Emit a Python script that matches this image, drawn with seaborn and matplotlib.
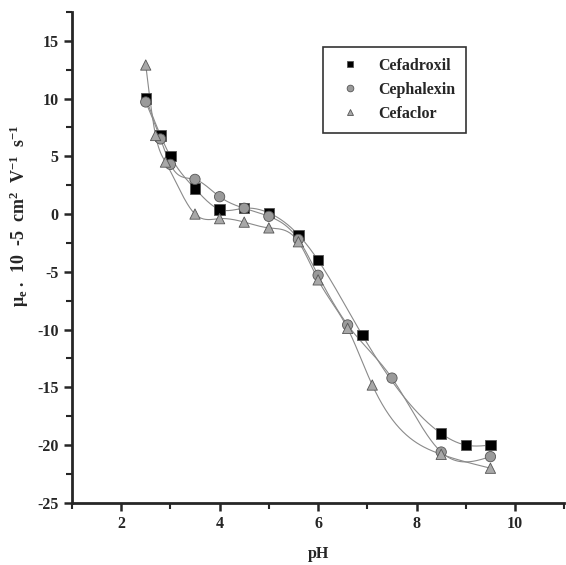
import numpy as np
import pandas as pd
import matplotlib
matplotlib.use("Agg")
import matplotlib.pyplot as plt
import seaborn as sns
from matplotlib.ticker import MultipleLocator

# data
ph_cefadroxil = [2.5, 2.8, 3.0, 3.5, 4.0, 4.5, 5.0, 5.6, 6.0, 6.9, 8.5, 9.0, 9.5]
mu_cefadroxil = [10.0, 6.8, 5.0, 2.2, 0.4, 0.5, 0.1, -1.8, -4.0, -10.5, -19.0, -20.0, -20.0]

ph_cephalexin = [2.5, 2.8, 3.0, 3.5, 4.0, 4.5, 5.0, 5.6, 6.0, 6.6, 7.5, 8.5, 9.5]
mu_cephalexin = [9.7, 6.5, 4.3, 3.0, 1.5, 0.5, -0.2, -2.2, -5.3, -9.6, -14.2, -20.6, -21.0]

ph_cefaclor = [2.5, 2.7, 2.9, 3.5, 4.0, 4.5, 5.0, 5.6, 6.0, 6.6, 7.1, 8.5, 9.5]
mu_cefaclor = [12.9, 6.8, 4.5, 0.0, -0.4, -0.7, -1.2, -2.4, -5.7, -9.9, -14.8, -20.8, -22.0]

names = ["Cefadroxil", "Cephalexin", "Cefaclor"]

sns.set_style("ticks")
plt.rcParams["font.family"] = ["Liberation Serif", "DejaVu Serif"]
plt.rcParams["font.weight"] = "bold"
plt.rcParams["axes.unicode_minus"] = False
plt.rcParams["mathtext.fontset"] = "custom"
plt.rcParams["mathtext.rm"] = "Liberation Serif:bold"
plt.rcParams["mathtext.it"] = "Liberation Serif:bold"
plt.rcParams["mathtext.bf"] = "Liberation Serif:bold"
plt.rcParams["mathtext.default"] = "rm"


def natural_spline(x, y, n=300):
    # smooth connecting curve like the original software draws
    x = np.asarray(x, float)
    y = np.asarray(y, float)
    k = len(x)
    h = np.diff(x)
    A = np.zeros((k, k))
    b = np.zeros(k)
    A[0, 0] = 1
    A[-1, -1] = 1
    for i in range(1, k - 1):
        A[i, i - 1] = h[i - 1]
        A[i, i] = 2 * (h[i - 1] + h[i])
        A[i, i + 1] = h[i]
        b[i] = 6 * ((y[i + 1] - y[i]) / h[i] - (y[i] - y[i - 1]) / h[i - 1])
    M = np.linalg.solve(A, b)
    xs = np.linspace(x[0], x[-1], n)
    idx = np.clip(np.searchsorted(x, xs) - 1, 0, k - 2)
    x0, x1 = x[idx], x[idx + 1]
    hh = x1 - x0
    t0 = x1 - xs
    t1 = xs - x0
    ys = (M[idx] * t0 ** 3 / (6 * hh) + M[idx + 1] * t1 ** 3 / (6 * hh)
          + (y[idx] / hh - M[idx] * hh / 6) * t0
          + (y[idx + 1] / hh - M[idx + 1] * hh / 6) * t1)
    return xs, ys


df = pd.concat([
    pd.DataFrame({"pH": ph_cefadroxil, "mu": mu_cefadroxil, "drug": names[0]}),
    pd.DataFrame({"pH": ph_cephalexin, "mu": mu_cephalexin, "drug": names[1]}),
    pd.DataFrame({"pH": ph_cefaclor, "mu": mu_cefaclor, "drug": names[2]}),
], ignore_index=True)

fig = plt.figure(figsize=(5.66, 5.65), dpi=100)
ax = fig.add_axes([0.127, 0.110, 0.870, 0.869])

# thin grey spline curves
for xs, ys in [(ph_cefadroxil, mu_cefadroxil), (ph_cephalexin, mu_cephalexin), (ph_cefaclor, mu_cefaclor)]:
    sx, sy = natural_spline(xs, ys)
    ax.plot(sx, sy, color="#8a8a8a", linewidth=0.8, zorder=1)

sns.scatterplot(
    data=df, x="pH", y="mu", hue="drug", style="drug",
    hue_order=names, style_order=names,
    palette=["black", "#9a9a9a", "#a8a8a8"],
    markers=["s", "o", "^"],
    s=55, edgecolor="#555555", linewidth=0.6, zorder=3, ax=ax,
)

ax.set_xlim(1, 11)
ax.set_ylim(-25, 17.5)
ax.xaxis.set_major_locator(MultipleLocator(2))
ax.xaxis.set_minor_locator(MultipleLocator(1))
ax.yaxis.set_major_locator(MultipleLocator(5))
ax.yaxis.set_minor_locator(MultipleLocator(2.5))
ax.tick_params(axis="both", which="major", length=6, width=1.8, labelsize=11.5, direction="out")
ax.tick_params(axis="both", which="minor", length=4, width=1.5, direction="out")
for lab in ax.get_xticklabels() + ax.get_yticklabels():
    lab.set_fontweight("bold")

sns.despine(ax=ax)
for side in ["left", "bottom"]:
    ax.spines[side].set_linewidth(2)

ax.set_xlabel("pH", fontsize=11.5, fontweight="bold", labelpad=10)
ax.set_ylabel(r"$\mu_e$ .  10  -5  cm$^2$  V$^{-1}$  s$^{-1}$", fontsize=13, fontweight="bold")
ax.yaxis.set_label_coords(-0.084, 0.585)

leg = ax.legend(
    loc="upper left", bbox_to_anchor=(0.51, 0.928),
    frameon=True, fancybox=False, edgecolor="black",
    fontsize=11.5, handletextpad=0.8, labelspacing=0.5,
    borderpad=0.67, markerscale=0.65, borderaxespad=0,
)
leg.get_frame().set_linewidth(1.2)
for t in leg.get_texts():
    t.set_fontweight("bold")

fig.savefig("out.png", dpi=100)
